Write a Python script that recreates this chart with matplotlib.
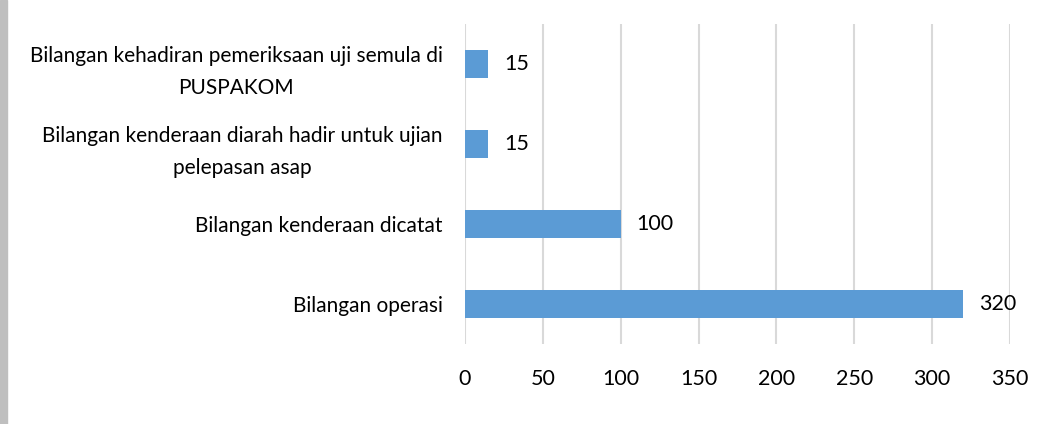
import matplotlib.pyplot as plt
from matplotlib.patches import Rectangle

categories = [
    "Bilangan operasi",
    "Bilangan kenderaan dicatat",
    "Bilangan kenderaan diarah hadir untuk ujian\npelepasan asap",
    "Bilangan kehadiran pemeriksaan uji semula di\nPUSPAKOM",
]
values = [320, 100, 15, 15]
xticks = [0, 50, 100, 150, 200, 250, 300, 350]

plt.rcParams["font.family"] = ["Lato", "DejaVu Sans"]

fig = plt.figure(figsize=(10.62, 4.24), dpi=100)
ax = fig.add_axes([0.4379, 0.1887, 0.5132, 0.7547])

ypos = list(range(len(categories)))
bars = ax.barh(ypos, values, height=0.35, color="#5B9BD5", zorder=3)
for b, v in zip(bars, values):
    ax.text(b.get_width() + 10, b.get_y() + b.get_height() / 2, str(v),
            va="center", ha="left", fontsize=15.5, color="#000000")

ax.set_xlim(0, 350)
ax.set_ylim(-0.5, 3.5)
ax.set_xticks(xticks)
ax.set_yticks(ypos)
ax.set_yticklabels(categories, fontsize=15, multialignment="center",
                   linespacing=1.75)
ax.tick_params(axis="x", length=0, pad=18, labelsize=15.5)
ax.tick_params(axis="y", length=0, pad=16)
ax.grid(axis="x", color="#D9D9D9", linewidth=1.5, zorder=0)
for s in ax.spines.values():
    s.set_visible(False)

fig.patches.append(Rectangle((0, 0), 7 / 1062, 1, transform=fig.transFigure,
                             color="#BFBFBF", zorder=0))

fig.savefig("out.png", dpi=100)
